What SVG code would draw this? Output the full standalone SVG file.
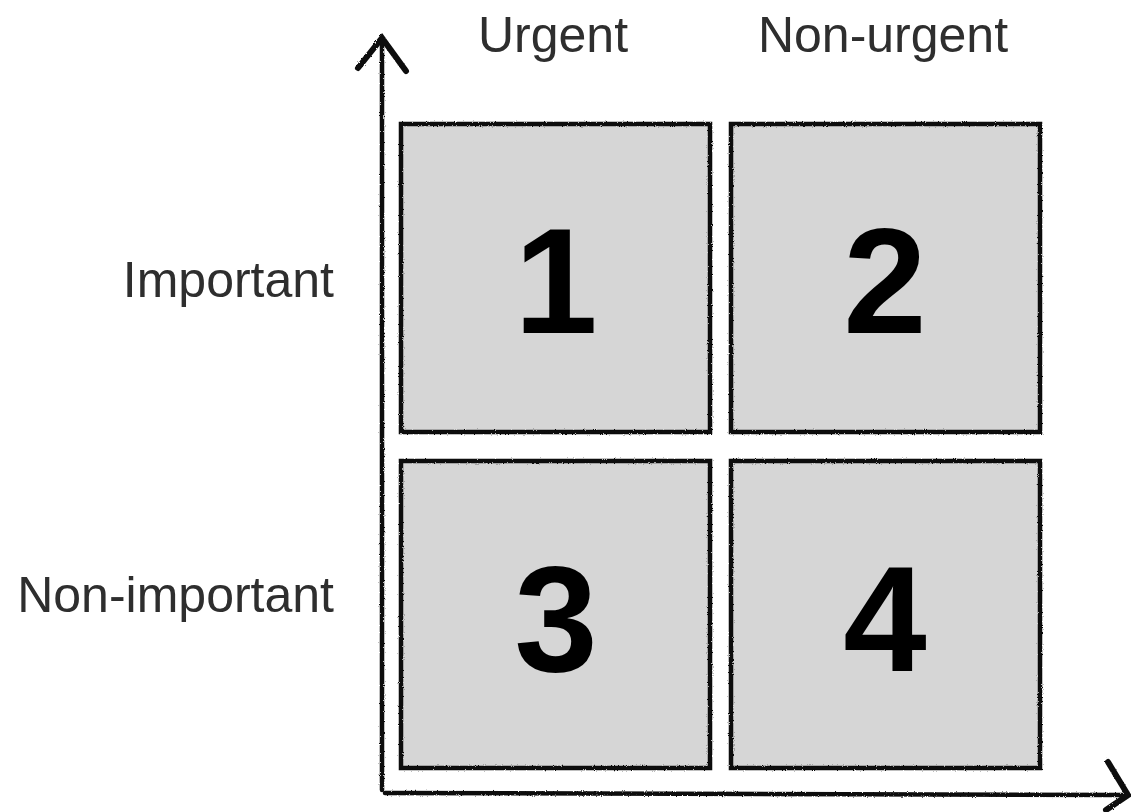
<svg xmlns="http://www.w3.org/2000/svg" width="1131" height="812" viewBox="0 0 1131 812">
<defs>
<style>
.box{fill:#d6d6d6;stroke:#111;stroke-width:4.5;}
.edge{fill:none;stroke:#111;stroke-width:2.5;}
.num{font-family:"Liberation Sans",Arial,sans-serif;font-weight:bold;font-size:150px;fill:#000;text-anchor:middle;}
.lbl{font-family:"Liberation Sans",Arial,sans-serif;font-size:50px;fill:#2e2e2e;}
.axis{fill:none;stroke:#111;stroke-width:4.5;stroke-linecap:round;stroke-linejoin:round;}
.head{fill:none;stroke:#111;stroke-width:6;stroke-linecap:round;stroke-linejoin:miter;}
</style>
<filter id="rough" x="-5%" y="-5%" width="110%" height="110%">
<feTurbulence type="fractalNoise" baseFrequency="0.9" numOctaves="2" seed="3" result="n"/>
<feDisplacementMap in="SourceGraphic" in2="n" scale="2.5"/>
</filter>
</defs>
<rect width="1131" height="812" fill="#fff"/>
<g id="connectors" filter="url(#rough)">
<path class="axis" d="M382,790 L382,42"/>
<path class="head" d="M358,68 L382,38 L406,71"/>
<path class="axis" d="M385,793 L1126,795"/>
<path class="head" d="M1108,762 L1128,795 L1106,810"/>
</g>
<g id="q1"><rect class="box" x="401" y="124" width="309" height="308" filter="url(#rough)"/><path class="edge" d="M710,126 L710,432 L403,432" filter="url(#rough)"/><text class="num" x="556" y="333">1</text></g>
<g id="q2"><rect class="box" x="731" y="124" width="309" height="308" filter="url(#rough)"/><path class="edge" d="M1040,126 L1040,432 L733,432" filter="url(#rough)"/><text class="num" x="885" y="333">2</text></g>
<g id="q3"><rect class="box" x="401" y="461" width="309" height="307" filter="url(#rough)"/><path class="edge" d="M710,463 L710,768 L403,768" filter="url(#rough)"/><text class="num" x="556" y="671">3</text></g>
<g id="q4"><rect class="box" x="731" y="461" width="309" height="307" filter="url(#rough)"/><path class="edge" d="M1040,463 L1040,768 L733,768" filter="url(#rough)"/><text class="num" x="885" y="671">4</text></g>
<g id="labels">
<text class="lbl" x="553" y="52" text-anchor="middle">Urgent</text>
<text class="lbl" x="883" y="52" text-anchor="middle">Non-urgent</text>
<text class="lbl" x="334" y="297" text-anchor="end">Important</text>
<text class="lbl" x="334" y="612" text-anchor="end">Non-important</text>
</g>
</svg>
